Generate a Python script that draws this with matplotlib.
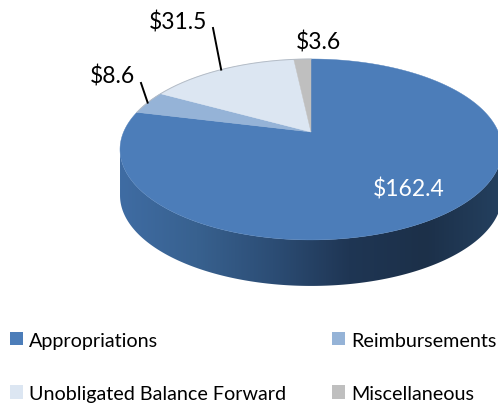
import numpy as np
import matplotlib
matplotlib.use("Agg")
import matplotlib.pyplot as plt
from matplotlib.patches import Patch, Polygon

categories = ["Appropriations", "Reimbursements", "Unobligated Balance Forward", "Miscellaneous"]
values = [162.4, 8.6, 31.5, 3.6]
value_labels = ["$162.4", "$8.6", "$31.5", "$3.6"]
colors = ["#4c7db9", "#95b3d7", "#dce6f2", "#bfbfbf"]

plt.rcParams["font.family"] = ["Lato", "DejaVu Sans"]
W, H = 498, 406
fig = plt.figure(figsize=(W / 100, H / 100), dpi=100)
ax = fig.add_axes([0, 0, 1, 1])
ax.set_xlim(0, W)
ax.set_ylim(H, 0)
ax.axis("off")

# perspective view of a circular pie
CX, CY, A, B, K, DEPTH = 311, 133, 187.4, 87.1, 0.193, 46


def rim(frac):
    t = 2 * np.pi * np.asarray(frac)
    u, v = np.sin(t), np.cos(t)
    d = 1 + K * v
    return CX + A * u / d, CY - B * v / d


# side wall
t = np.linspace(0, 1, 721)
rx, ry = rim(t)
left, right = int(np.argmin(rx)), int(np.argmax(rx))
wx, wy = rx[right:left + 1], ry[right:left + 1]
wall = Polygon(np.r_[np.c_[wx, wy], np.c_[wx, wy + DEPTH][::-1]], closed=True, fc="none", ec="none")
ax.add_patch(wall)
cmap = matplotlib.colors.LinearSegmentedColormap.from_list(
    "wall", ["#3f6ca3", "#38618f", "#2c4d75", "#1f3654", "#1c3049", "#24405f"])
img = ax.imshow(np.linspace(0, 1, 256)[None, :], cmap=cmap, aspect="auto",
                extent=[rx.min(), rx.max(), ry.max() + DEPTH, ry.min()], zorder=1)
img.set_clip_path(wall)
ax.set_xlim(0, W)
ax.set_ylim(H, 0)

# top slices
cum = np.cumsum([0] + values) / sum(values)
for i, c in enumerate(colors):
    sx, sy = rim(np.linspace(cum[i], cum[i + 1], 200))
    ax.add_patch(Polygon(np.r_[[[CX, CY]], np.c_[sx, sy]], closed=True, fc=c, ec=c, lw=0.3, zorder=2))

# rim highlight on light slices
sx, sy = rim(np.linspace(cum[1], cum[4], 200))
ax.plot(sx, sy, color="#b4bcc6", lw=0.7, zorder=3)

# value labels
mid = (cum[:-1] + cum[1:]) / 2
label_pos = [(409, 190), (112, 77), (178, 23), (318, 42)]
label_col = ["white", "black", "black", "black"]
leader_from = [None, (141, 84), (213, 29), None]
FS = 16.5
for i, s in enumerate(value_labels):
    ax.text(*label_pos[i], s, color=label_col[i], fontsize=FS, ha="center", va="center", zorder=5)
    if leader_from[i]:
        mx, my = rim(mid[i])
        ax.plot([leader_from[i][0], mx], [leader_from[i][1], my], color="black", lw=1.4, zorder=4)

# legend
handles = [Patch(fc=c, ec="none") for c in colors]
order = [0, 2, 1, 3]
ax.legend([handles[i] for i in order], [categories[i] for i in order], ncol=2, frameon=False,
          loc="lower left", bbox_to_anchor=(10 / W, 3 / H), borderaxespad=0, borderpad=0.0,
          fontsize=14.2, handlelength=0.65, handleheight=0.65, handletextpad=0.3,
          labelspacing=1.85, columnspacing=2.36)

fig.savefig("out.png", dpi=100)
